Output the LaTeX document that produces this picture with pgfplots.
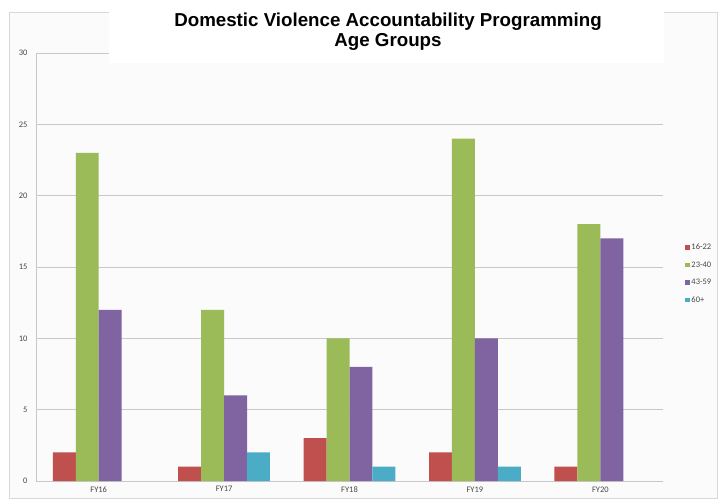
\documentclass[border=0pt]{standalone}
\usepackage{pgfplots}
\pgfplotsset{compat=1.18}
\usepackage{fontspec}
\setmainfont{Carlito}
\newfontfamily\titlefont{Liberation Sans}
\definecolor{cRed}{RGB}{192,80,77}
\definecolor{cGreen}{RGB}{155,187,89}
\definecolor{cPurple}{RGB}{128,100,162}
\definecolor{cCyan}{RGB}{75,172,198}
\definecolor{gridc}{RGB}{200,200,200}
\definecolor{tickc}{RGB}{70,70,70}
\definecolor{bgc}{RGB}{251,251,251}
\begin{document}
\begin{tikzpicture}
\path[use as bounding box] (0,0) rectangle (720bp,502bp);
\draw[gridc!70, fill=bgc, line width=0.8bp] (9bp,4bp) rectangle (717bp,490bp);
\begin{axis}[
  at={(36bp,21bp)}, anchor=south west,
  scale only axis, width=627bp, height=428bp,
  xmin=-0.5, xmax=4.5, ymin=0, ymax=30,
  xtick={0,1,2,3,4},
  xticklabels={FY16,FY17,FY18,FY19,FY20},
  ytick={0,5,10,15,20,25,30},
  axis x line=bottom, axis y line=left,
  axis line style={gridc, line width=0.8bp, -},
  ymajorgrids, grid style={gridc, line width=0.8bp},
  major tick length=0pt,
  tick label style={font=\fontsize{8.5}{10}\selectfont, text=tickc},
  yticklabel style={xshift=-5bp},
  xticklabel style={yshift=-2bp},
  /pgf/number format/assume math mode=true,
  ybar, bar width=0.183,
  every axis plot/.append style={draw=none},
  legend style={at={(1.03,0.484)}, anchor=west, draw=none, fill=none,
    font=\fontsize{8.5}{10}\selectfont, text=tickc, row sep=6.5bp,
    legend cell align=left,
    /tikz/every even column/.append style={column sep=1bp}},
  legend image code/.code={\fill[#1] (0bp,-2.2bp) rectangle (4.5bp,2.2bp);},
  clip=false,
]
\addplot[fill=cRed, bar shift=-0.2745] coordinates {(0,2) (1,1) (2,3) (3,2) (4,1)};
\addplot[fill=cGreen, bar shift=-0.0915] coordinates {(0,23) (1,12) (2,10) (3,24) (4,18)};
\addplot[fill=cPurple, bar shift=0.0915] coordinates {(0,12) (1,6) (2,8) (3,10) (4,17)};
\addplot[fill=cCyan, bar shift=0.2745] coordinates {(1,2) (2,1) (3,1)};
\legend{16-22,23-40,43-59,60+}
\draw[gridc, line width=0.8bp] (rel axis cs:0,1) -- (rel axis cs:1,1);
\end{axis}
\fill[white] (109bp,439bp) rectangle (664bp,490bp);
\node[font=\titlefont\bfseries\fontsize{18.8}{21}\selectfont, anchor=base] at (388bp,475bp) {Domestic Violence Accountability Programming};
\node[font=\titlefont\bfseries\fontsize{18.8}{21}\selectfont, anchor=base] at (388bp,455bp) {Age Groups};
\end{tikzpicture}
\end{document}
